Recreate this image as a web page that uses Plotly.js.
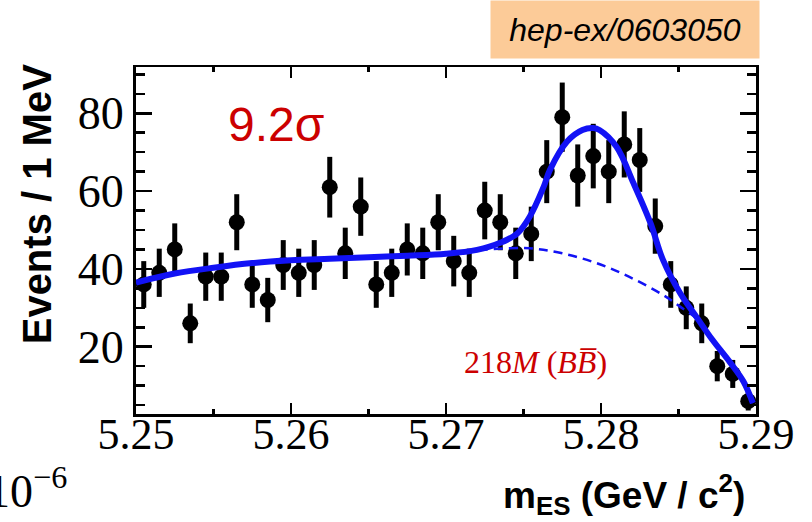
<!DOCTYPE html>
<html>
<head>
<meta charset="utf-8">
<script src="https://cdn.plot.ly/plotly-3.0.1.min.js"></script>
<style>html,body{margin:0;padding:0;background:#fff;}#chart{width:812px;height:522px;}</style>
</head>
<body>
<div id="chart"></div>
<script>
// Bin centres (GeV/c^2), 1 MeV bins
const binCenters = [5.2505,5.2515,5.2525,5.2535,5.2545,5.2555,5.2565,5.2575,5.2585,5.2595,
                    5.2605,5.2615,5.2625,5.2635,5.2645,5.2655,5.2665,5.2675,5.2685,5.2695,
                    5.2705,5.2715,5.2725,5.2735,5.2745,5.2755,5.2765,5.2775,5.2785,5.2795,
                    5.2805,5.2815,5.2825,5.2835,5.2845,5.2855,5.2865,5.2875,5.2885,5.2895];
// Events per bin
const counts = [36,39,45,26,38,38,52,36,32,41,
                39,41,61,44,56,36,39,45,44,52,
                42,39,55,52,44,49,65,79,64,69,
                65,72,68,51,36,30,26,15,13,6];
// Error bar half-lengths
const errs = [6.0,6.2,6.7,5.1,6.2,6.2,7.2,6.0,5.7,6.4,
              6.2,6.4,7.8,6.6,7.5,6.0,6.2,6.7,6.6,7.2,
              6.5,6.2,7.4,7.2,6.6,7.0,8.1,8.9,8.0,8.3,
              8.1,8.5,8.2,7.1,6.0,5.5,5.1,3.9,3.6,2.4];
// Total fit curve
const fitX = [5.2500,5.2525,5.2550,5.2575,5.2600,5.2625,5.2650,5.2675,5.2700,5.2720,
              5.2735,5.2746,5.2754,5.2763,5.2767,5.2778,5.2788,5.2795,5.2799,5.2810,
              5.2821,5.2832,5.2840,5.2851,5.2862,5.2872,5.2883,5.2892,5.2898];
const fitY = [36.5,38.8,40.3,41.5,42.2,42.6,43.0,43.4,43.9,44.9,
              46.7,49.1,53.4,61.1,65.4,72.7,75.7,76.2,75.7,71.4,
              62.0,51.7,42.3,33.8,27.4,21.7,16.1,11.0,5.5];
// Background fit curve (dashed)
const bgX = [5.2500,5.2550,5.2600,5.2650,5.2700,5.2726,5.2754,5.2775,5.2797,5.2818,
             5.2840,5.2851,5.2862,5.2872,5.2883,5.2892,5.2898];
const bgY = [36.5,40.3,42.2,43.0,43.9,45.0,45.3,44.0,41.5,38.0,
             33.3,30.3,27.0,21.5,16.0,11.0,5.5];
const xTicks = [5.25,5.26,5.27,5.28,5.29];
const xTickText = ['5.25','5.26','5.27','5.28','5.29'];
const yTicks = [20,40,60,80];

const red = 'rgb(204,0,0)';
const blue = 'rgb(18,18,245)';
const serif = 'Liberation Serif';
const sans = 'Liberation Sans';

const traces = [
  {
    x: binCenters, y: counts, type: 'scatter', mode: 'markers',
    marker: {color: '#000', size: 16},
    error_y: {type: 'data', array: errs, visible: true, color: '#000', thickness: 5, width: 0},
    showlegend: false, cliponaxis: false
  },
  {
    x: bgX, y: bgY, type: 'scatter', mode: 'lines',
    line: {color: blue, width: 2.5, dash: '9px,6px', shape: 'spline'},
    showlegend: false
  },
  {
    x: fitX, y: fitY, type: 'scatter', mode: 'lines',
    line: {color: blue, width: 6, shape: 'spline'},
    showlegend: false
  }
];

const layout = {
  width: 812, height: 522,
  margin: {l: 136, r: 56, t: 67, b: 108},
  paper_bgcolor: '#fff', plot_bgcolor: '#fff',
  showlegend: false,
  xaxis: {
    range: [5.25, 5.29], tickvals: xTicks, ticktext: xTickText,
    ticks: 'inside', ticklen: 11, tickwidth: 2.5, tickcolor: '#000',
    showline: true, linecolor: '#000', linewidth: 2.5, mirror: 'ticks',
    showgrid: false, zeroline: false,
    ticklabelstandoff: -20,
    tickfont: {family: serif, size: 44, color: '#000'},
    minor: {dtick: 0.005, tick0: 5.25, ticks: 'inside', ticklen: 5, tickwidth: 2.5, tickcolor: '#000', showgrid: false}
  },
  yaxis: {
    range: [2.7, 91.9], tickvals: yTicks,
    ticks: 'inside', ticklen: 16, tickwidth: 2.5, tickcolor: '#000',
    showline: true, linecolor: '#000', linewidth: 3, mirror: 'ticks',
    showgrid: false, zeroline: false,
    ticklabelstandoff: 0,
    tickfont: {family: serif, size: 46, color: '#000'},
    minor: {dtick: 5, tick0: 0, ticks: 'inside', ticklen: 9, tickwidth: 2.5, tickcolor: '#000', showgrid: false}
  },
  annotations: [
    {
      xref: 'paper', yref: 'paper', x: 0.788, y: 1.193, xanchor: 'center', yanchor: 'top',
      text: '<i>hep-ex/0603050</i>', showarrow: false,
      bgcolor: 'rgb(252,203,152)', width: 268, height: 57, borderpad: 0,
      font: {family: sans, size: 32, color: '#000'}
    },
    {
      xref: 'paper', yref: 'paper', x: 0.225, y: 0.835, xanchor: 'center', yanchor: 'middle',
      text: '9.2σ', showarrow: false,
      font: {family: sans, size: 48, color: red}
    },
    {
      xref: 'paper', yref: 'paper', x: 0.644, y: 0.150, xanchor: 'center', yanchor: 'middle',
      text: '218<i>M</i> (<i>B</i><i>B\u0305</i>)', showarrow: false,
      font: {family: serif, size: 32, color: red}
    },
    {
      xref: 'paper', yref: 'paper', x: -0.16, y: 0.5, xanchor: 'center', yanchor: 'middle',
      text: '<b>Events / 1 MeV</b>', textangle: -90, showarrow: false,
      font: {family: sans, size: 40, color: '#000'},
      yshift: 36
    },
    {
      xref: 'paper', yref: 'paper', x: 0.787, y: -0.311, xanchor: 'center', yanchor: 'bottom',
      text: '<b>m<sub>ES</sub> (GeV / c<sup>2</sup>)</b>', showarrow: false,
      font: {family: sans, size: 37, color: '#000'}
    },
    {
      xref: 'paper', yref: 'paper', x: -0.243, y: -0.125, xanchor: 'left', yanchor: 'top',
      text: '10<sup>\u22126</sup>', showarrow: false,
      font: {family: serif, size: 46, color: '#000'}
    }
  ]
};

Plotly.newPlot('chart', traces, layout, {staticPlot: true, displayModeBar: false});
</script>
</body>
</html>
